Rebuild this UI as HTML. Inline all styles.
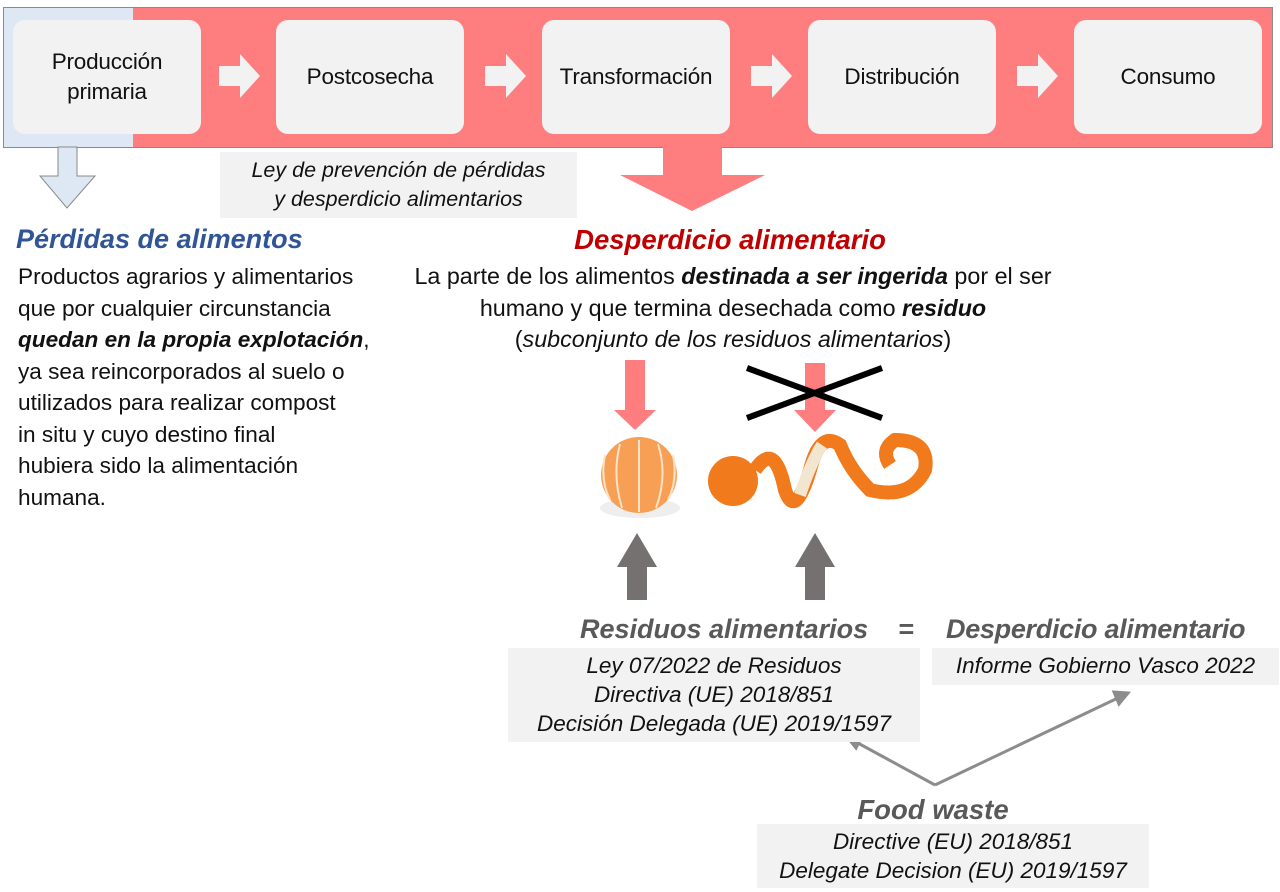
<!DOCTYPE html>
<html><head><meta charset="utf-8"><style>
body{margin:0;width:1280px;height:892px;position:relative;background:#fff;font-family:"Liberation Sans",sans-serif;overflow:hidden}
.a{position:absolute}
.box{position:absolute;top:20px;height:114px;width:188px;background:#f2f2f2;border-radius:12px;display:flex;align-items:center;justify-content:center;text-align:center;font-size:22.5px;color:#111;line-height:30px;letter-spacing:-0.2px}
.g{background:#f2f2f2;font-style:italic;font-size:22.5px;color:#111;text-align:center;line-height:29px;white-space:nowrap}
</style></head><body>
<div class="a" style="left:3px;top:7px;width:130px;height:139px;background:#dde8f4;border:1px solid #8a8a8a;border-right:none"></div>
<div class="a" style="left:133px;top:7px;width:1139px;height:139px;background:#fe7d7f;border:1px solid #8a8a8a;border-left:none"></div>
<div class="box" style="left:13px">Producción<br>primaria</div>
<div class="box" style="left:276px">Postcosecha</div>
<div class="box" style="left:542px">Transformación</div>
<div class="box" style="left:808px">Distribución</div>
<div class="box" style="left:1074px">Consumo</div>
<svg class="a" style="left:0;top:0" width="1280" height="892">
<g fill="#f2f2f2">
<polygon points="219,66 240,66 240,54 260,76 240,98 240,86 219,86"/>
<polygon points="485,66 506,66 506,54 526,76 506,98 506,86 485,86"/>
<polygon points="751,66 772,66 772,54 792,76 772,98 772,86 751,86"/>
<polygon points="1017,66 1038,66 1038,54 1058,76 1038,98 1038,86 1017,86"/>
</g>
<polygon points="58,147 77,147 77,176 95,176 67,208 40,176 58,176" fill="#dde8f4" stroke="#8a8a8a"/>
<polygon points="663,147 722,147 722,175 765,175 692,211 620,175 663,175" fill="#fe7d7f"/>
<g fill="#fe7d7f">
<polygon points="625,360 645,360 645,410 656,410 635,430 614,410 625,410"/>
<polygon points="805,363 825,363 825,410 836,410 815,432 794,410 805,410"/>
</g>
<g stroke="#000" stroke-width="6"><line x1="747" y1="368" x2="882" y2="418"/><line x1="747" y1="418" x2="882" y2="368"/></g>
<g fill="#767171">
<polygon points="637,533 657,567 647,567 647,600 627,600 627,567 617,567"/>
<polygon points="815,533 835,567 825,567 825,600 805,600 805,567 795,567"/>
</g>
<ellipse cx="640" cy="508" rx="40" ry="10" fill="#eee"/>
<circle cx="639" cy="475" r="38" fill="#f7a055"/>
<g stroke="#fbe3c8" stroke-width="2" fill="none"><path d="M639 440 V512 M620 444 Q612 475 622 508 M658 444 Q668 475 656 508 M605 455 Q600 480 610 500 M673 455 Q678 480 668 500"/></g>
<circle cx="733" cy="481" r="25" fill="#f07a1c"/>
<path d="M755 470 Q775 440 785 490 Q795 520 810 470 Q820 430 840 445 Q850 470 870 490 Q910 500 925 470 Q930 440 895 440 Q880 450 890 465" stroke="#f07a1c" stroke-width="14" fill="none"/>
<path d="M800 495 Q812 460 822 445" stroke="#f2e6d0" stroke-width="12" fill="none"/>
<g stroke="#8c8c8c" stroke-width="3" fill="#8c8c8c">
<line x1="935" y1="785" x2="856" y2="742"/><line x1="935" y1="785" x2="1120" y2="697"/>
<polygon points="848,738 862,736 856,748" /><polygon points="1128,693 1114,692 1119,704"/>
</g>
</svg>
<div class="a g" style="left:220px;top:152px;width:357px;height:66px;padding-top:4px;box-sizing:border-box;font-size:21.5px">Ley de prevención de pérdidas<br>y desperdicio alimentarios</div>
<div class="a" style="left:16px;top:224px;font-size:27px;font-weight:bold;font-style:italic;color:#2f5597;white-space:nowrap">Pérdidas de alimentos</div>
<div class="a" style="left:18px;top:261px;font-size:22.6px;line-height:31.5px;color:#111;width:420px;white-space:nowrap">Productos agrarios y alimentarios<br>que por cualquier circunstancia<br><b><i>quedan en la propia explotación</i></b>,<br>ya sea reincorporados al suelo o<br>utilizados para realizar compost<br>in situ y cuyo destino final<br>hubiera sido la alimentación<br>humana.</div>
<div class="a" style="left:380px;top:224px;width:700px;text-align:center;font-size:27.5px;font-weight:bold;font-style:italic;color:#c00000">Desperdicio alimentario</div>
<div class="a" style="left:373px;top:261px;width:720px;text-align:center;font-size:23.3px;line-height:31.5px;color:#111;white-space:nowrap">La parte de los alimentos <b><i>destinada a ser ingerida</i></b> por el ser<br>humano y que termina desechada como <b><i>residuo</i></b><br>(<i>subconjunto de los residuos alimentarios</i>)</div>
<div class="a" style="left:580px;top:614px;font-size:27px;font-weight:bold;font-style:italic;color:#595959;white-space:pre">Residuos alimentarios</div>
<div class="a" style="left:898px;top:614px;font-size:27px;font-weight:bold;font-style:italic;color:#595959">=</div>
<div class="a" style="left:946px;top:614px;font-size:27px;font-weight:bold;font-style:italic;color:#595959;white-space:pre;letter-spacing:-0.3px">Desperdicio alimentario</div>
<div class="a g" style="left:508px;top:648px;width:412px;height:94px;padding-top:3px;box-sizing:border-box">Ley 07/2022 de Residuos<br>Directiva (UE) 2018/851<br>Decisión Delegada (UE) 2019/1597</div>
<div class="a g" style="left:932px;top:648px;width:347px;height:37px;padding-top:3px;box-sizing:border-box">Informe Gobierno Vasco 2022</div>
<div class="a" style="left:737px;top:794px;width:392px;text-align:center;font-size:27.5px;font-weight:bold;font-style:italic;color:#595959">Food waste</div>
<div class="a g" style="left:757px;top:824px;width:392px;height:64px;padding-top:3px;box-sizing:border-box">Directive (EU) 2018/851<br>Delegate Decision (EU) 2019/1597</div>
</body></html>
